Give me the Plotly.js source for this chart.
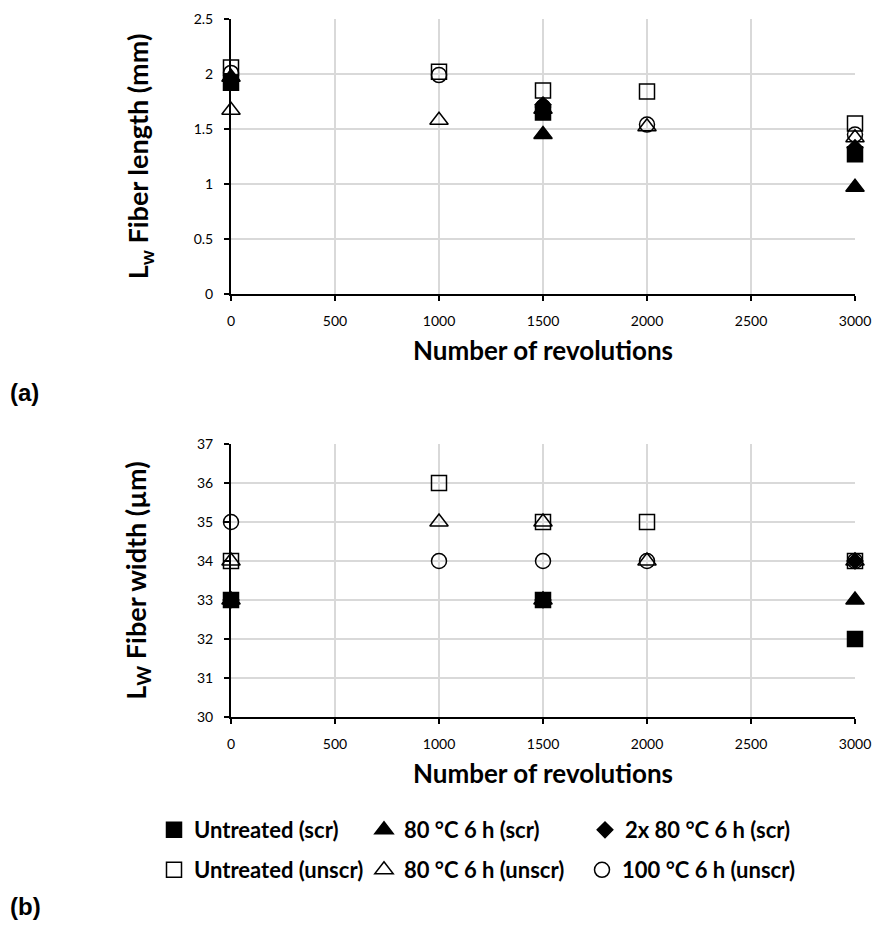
<!DOCTYPE html>
<html>
<head>
<meta charset="utf-8">
<script src="https://cdn.plot.ly/plotly-3.0.1.min.js"></script>
<style>html,body{margin:0;padding:0;background:#fff;}#chart{width:876px;height:944px;}</style>
</head>
<body>
<div id="chart"></div>
<script>
// ---- data ----
const seriesNames = ["Untreated (scr)", "80 °C 6 h (scr)", "2x 80 °C 6 h (scr)",
                     "Untreated (unscr)", "80 °C 6 h (unscr)", "100 °C 6 h (unscr)"];
const revScr = [0, 1500, 3000];
const revUnscr = [0, 1000, 1500, 2000, 3000];

// (a) Lw fiber length (mm)
const lenUntreatedScr = [1.92, 1.65, 1.27];
const len80Scr = [1.97, 1.45, 0.97];
const len2x80Scr = [1.95, 1.72, 1.33];
const lenUntreatedUnscr = [2.06, 2.02, 1.85, 1.84, 1.55];
const len80Unscr = [1.67, 1.58, 1.68, 1.52, 1.42];
const len100Unscr = [2.01, 1.99, 1.70, 1.54, 1.45];

// (b) Lw fiber width (µm)
const widUntreatedScr = [33, 33, 32];
const wid80Scr = [33, 33, 33];
const wid2x80Scr = [33, 33, 34];
const widUntreatedUnscr = [34, 36, 35, 35, 34];
const wid80Unscr = [34, 35, 35, 34, 34];
const wid100Unscr = [35, 34, 34, 34, 34];

const xTicks = [0, 500, 1000, 1500, 2000, 2500, 3000];

// ---- styling ----
const symbols = ["square", "triangle-up", "diamond", "square-open", "triangle-up-open", "circle-open"];
const sizes = [15, 16, 12, 15, 16, 15];
const FONT = "Lato, 'Open Sans', sans-serif";
const W = 876, H = 944;
// legend slot positions (px) for each series
const legX = [154, 364, 585, 154, 364, 582];
const legY = [830, 830, 830, 870, 870, 870];

const lenData = [lenUntreatedScr, len80Scr, len2x80Scr, lenUntreatedUnscr, len80Unscr, len100Unscr];
const widData = [widUntreatedScr, wid80Scr, wid2x80Scr, widUntreatedUnscr, wid80Unscr, wid100Unscr];

const traces = [];
for (let i = 0; i < 6; i++) {
  const xs = i < 3 ? revScr : revUnscr;
  const mk = {symbol: symbols[i], size: sizes[i], color: "#000", line: {color: "#000", width: 1.5}};
  traces.push({x: xs, y: lenData[i], type: "scatter", mode: "markers", name: seriesNames[i],
               marker: mk, xaxis: "x", yaxis: "y", showlegend: false, cliponaxis: false});
}
const legendDefs = {};
for (let i = 0; i < 6; i++) {
  const xs = i < 3 ? revScr : revUnscr;
  const lg = i === 0 ? "legend" : "legend" + (i + 1);
  const mk = {symbol: symbols[i], size: sizes[i], color: "#000", line: {color: "#000", width: 1.5}};
  traces.push({x: xs, y: widData[i], type: "scatter", mode: "markers", name: "<b>" + seriesNames[i] + "</b>",
               marker: mk, xaxis: "x2", yaxis: "y2", showlegend: true, legend: lg, cliponaxis: false});
  legendDefs[lg] = {x: legX[i] / W, xanchor: "left", y: 1 - legY[i] / H, yanchor: "middle",
                    orientation: "h", itemwidth: 30, bgcolor: "rgba(0,0,0,0)", borderwidth: 0,
                    font: {family: FONT, size: 22, color: "#000"}};
}

const xdom = [231 / W, 855 / W];
const axBase = {
  showline: true, linecolor: "#000", linewidth: 2,
  ticks: "outside", ticklen: 5, tickwidth: 2, tickcolor: "#000",
  showgrid: true, gridcolor: "#d9d9d9", gridwidth: 1.5,
  zeroline: false, tickfont: {family: FONT, size: 14, color: "#000"}
};
const xTitleFont = {family: FONT, size: 26, color: "#000"};
const yTitleFont = {family: FONT, size: 27, color: "#000"};
const layout = Object.assign({
  width: W, height: H,
  margin: {l: 0, r: 0, t: 0, b: 0},
  paper_bgcolor: "#fff", plot_bgcolor: "#fff",
  font: {family: FONT, color: "#000"},
  xaxis: Object.assign({}, axBase, {domain: xdom, range: [0, 3000], tickvals: xTicks, anchor: "y", ticklabelstandoff: 8,
    title: {text: "<b>Number of revolutions</b>", font: xTitleFont, standoff: 14}}),
  yaxis: Object.assign({}, axBase, {domain: [1 - 294 / H, 1 - 19 / H], range: [0, 2.5], dtick: 0.5, anchor: "x", ticklabelstandoff: 8,
    title: {text: "<b>L<sub>w</sub> Fiber length (mm)</b>", font: yTitleFont, standoff: 37}}),
  xaxis2: Object.assign({}, axBase, {domain: xdom, range: [0, 3000], tickvals: xTicks, anchor: "y2", ticklabelstandoff: 8,
    title: {text: "<b>Number of revolutions</b>", font: xTitleFont, standoff: 14}}),
  yaxis2: Object.assign({}, axBase, {domain: [1 - 717 / H, 1 - 444 / H], range: [30, 37], dtick: 1, anchor: "x2", ticklabelstandoff: 8,
    title: {text: "<b>L<sub>W</sub> Fiber width (µm)</b>", font: yTitleFont, standoff: 43}}),
  showlegend: true,
  annotations: [
    {text: "<b>(a)</b>", x: 0, y: 1 - 392 / H, xref: "paper", yref: "paper", xanchor: "left", yanchor: "middle",
     showarrow: false, xshift: 8, font: {family: "'Liberation Sans', Arial, sans-serif", size: 24, color: "#000"}},
    {text: "<b>(b)</b>", x: 0, y: 1 - 906 / H, xref: "paper", yref: "paper", xanchor: "left", yanchor: "middle",
     showarrow: false, xshift: 8, font: {family: "'Liberation Sans', Arial, sans-serif", size: 24, color: "#000"}}
  ]
}, legendDefs);
Plotly.newPlot("chart", traces, layout, {staticPlot: true, displayModeBar: false});
</script>
</body>
</html>
